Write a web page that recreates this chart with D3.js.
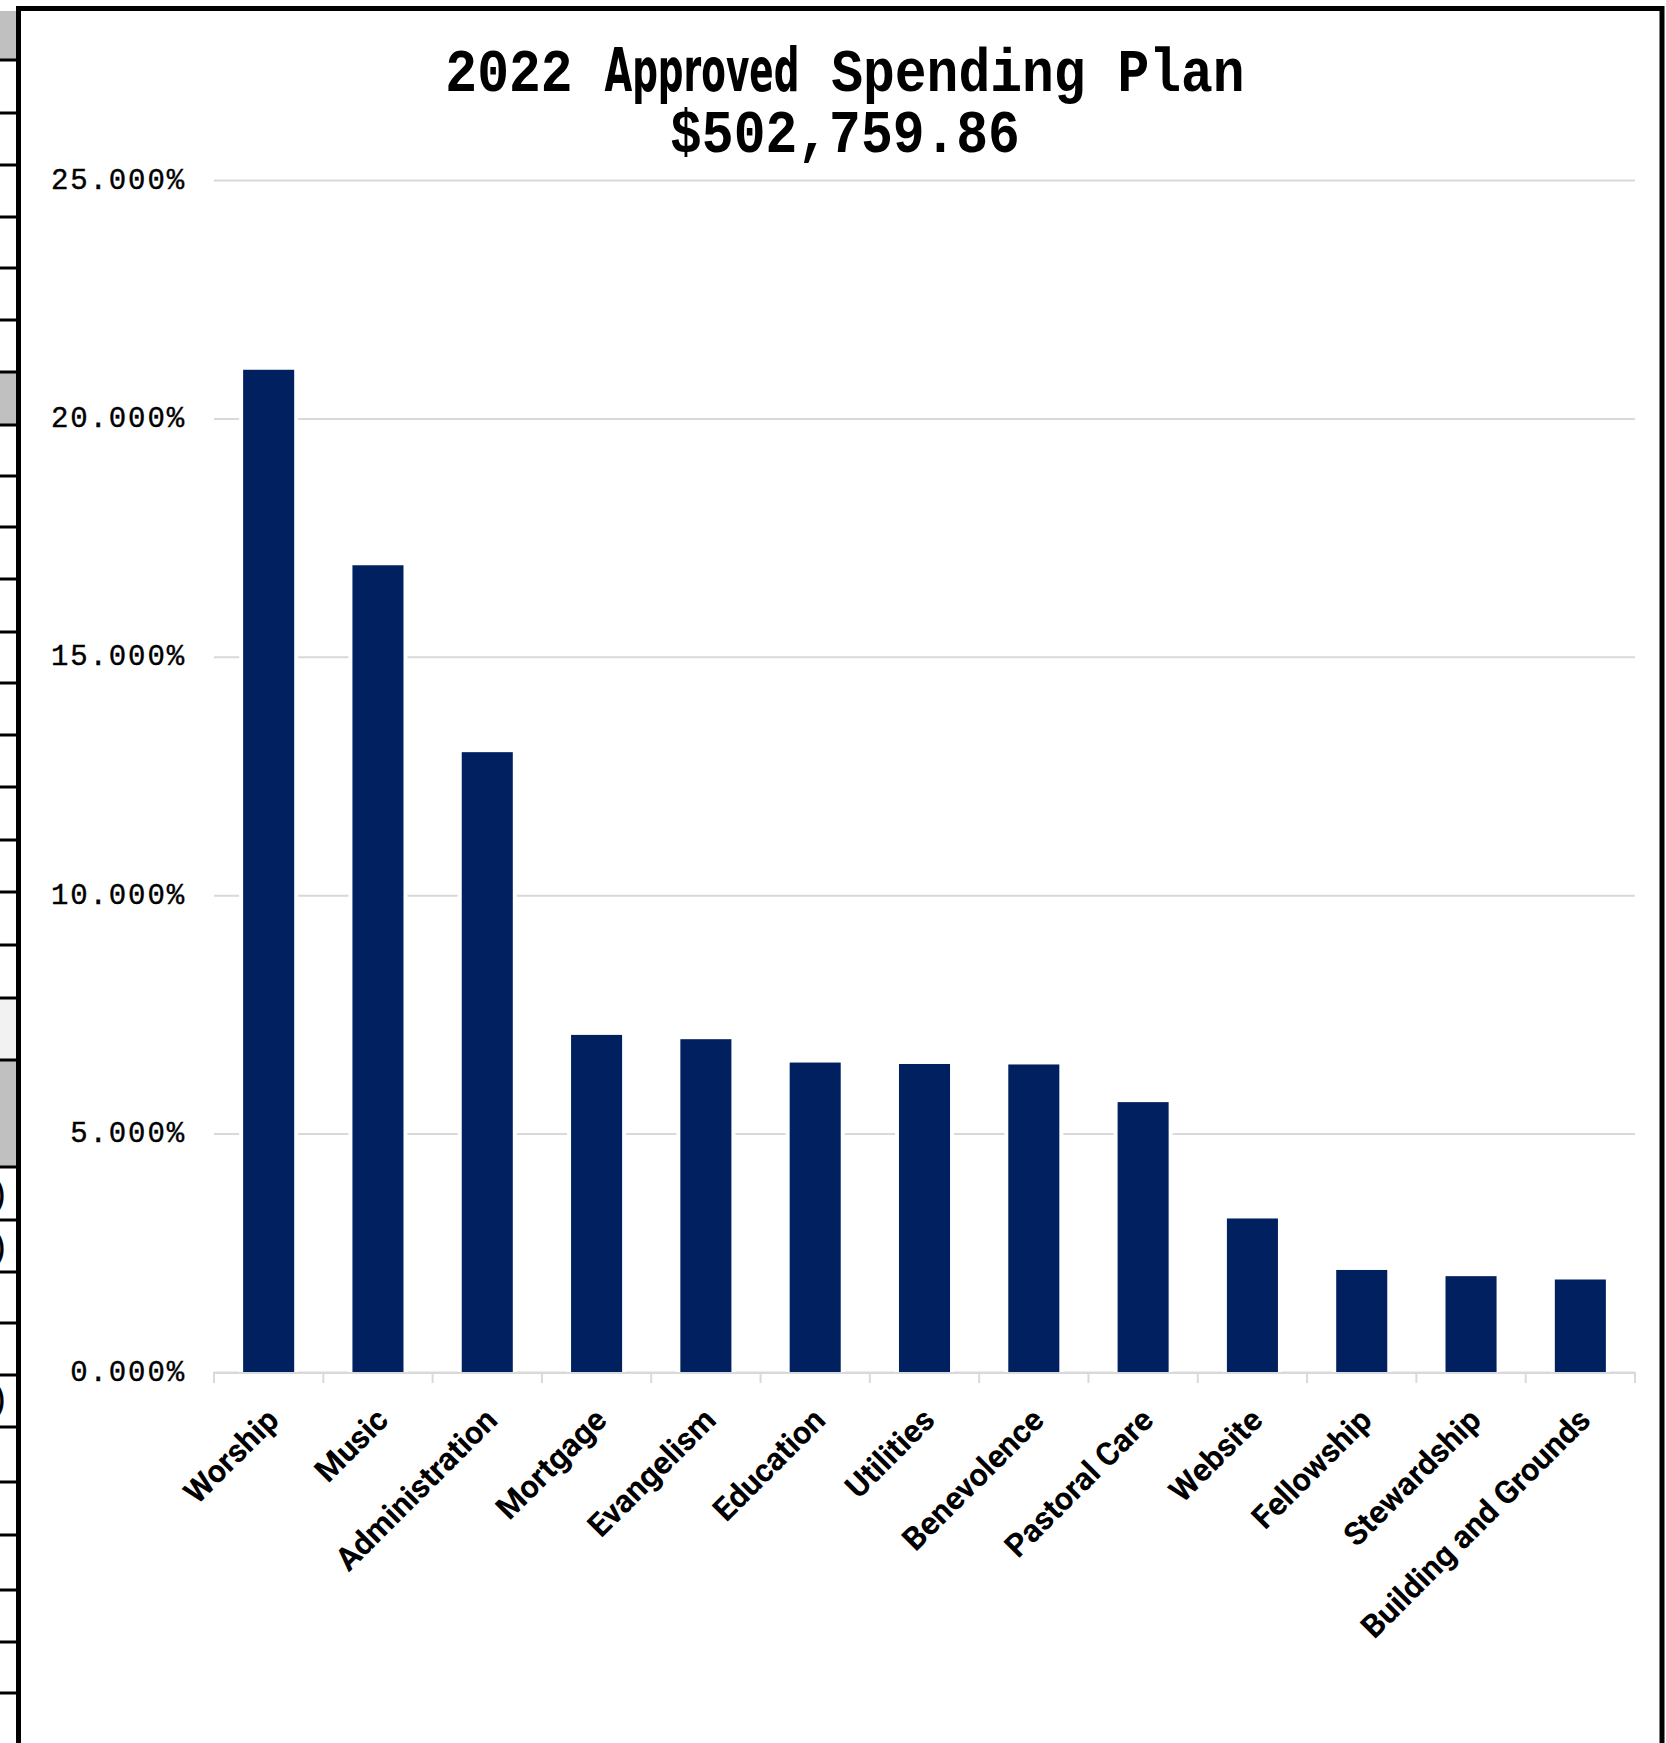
<!DOCTYPE html>
<html>
<head>
<meta charset="utf-8">
<script src="https://cdn.jsdelivr.net/npm/d3@7"></script>
<style>
  html, body { margin: 0; padding: 0; background: #fff; }
  svg { display: block; }
</style>
</head>
<body>
<svg id="chart"></svg>
<script>
// chart values
const categories = ["Worship", "Music", "Administration", "Mortgage", "Evangelism", "Education",
    "Utilities", "Benevolence", "Pastoral Care", "Website", "Fellowship", "Stewardship", "Building and Grounds"];
const shares = [21.02, 16.92, 13.00, 7.07, 6.98, 6.49, 6.46, 6.45, 5.66, 3.22, 2.14, 2.01, 1.94];
const yTicks = [0, 5, 10, 15, 20, 25];
const titleYear = "2022";
const titleWord = "Approved";
const titleRest = "Spending Plan";
const totalLabel = "$502,759.86";

// bits of the spreadsheet grid showing at the left edge
const gridRows = [60, 113, 165, 217, 268, 320, 372, 425, 476, 527, 579, 632, 683, 735, 787, 840,
    892, 945, 998, 1060, 1167, 1220, 1272, 1323, 1375, 1427, 1482, 1535, 1590, 1642, 1693];
const greyCells = [[11, 60, "#c0c0c0"], [372, 425, "#c0c0c0"], [998, 1060, "#f2f2f2"], [1060, 1167, "#c0c0c0"]];
const parenRows = [1206, 1259, 1411];

const width = 1666, height = 1743;
const margin = { top: 180, right: 31, bottom: 371, left: 214 };
const barColor = "#002060", gridColor = "#d9d9d9";

let svg = d3.select("#chart").attr("width", width).attr("height", height);

// left edge decor
let decor = svg.append("g");
decor.selectAll("rect").data(greyCells).join("rect")
    .attr("x", 0).attr("width", 17)
    .attr("y", d => d[0]).attr("height", d => d[1] - d[0])
    .attr("fill", d => d[2]);
decor.selectAll("line").data(gridRows).join("line")
    .attr("x1", 0).attr("x2", 17)
    .attr("y1", d => d).attr("y2", d => d)
    .attr("stroke", "#000").attr("stroke-width", 3);
svg.append("clipPath").attr("id", "leftclip")
    .append("rect").attr("x", 0).attr("y", 0).attr("width", 16).attr("height", height);
decor.append("g").attr("clip-path", "url(#leftclip)")
    .selectAll("text").data(parenRows).join("text")
    .attr("x", 6).attr("y", d => d)
    .attr("text-anchor", "end")
    .attr("font-family", "Liberation Sans, Arial, sans-serif")
    .attr("font-size", 38)
    .text(")");

// chart frame
svg.append("rect")
    .attr("x", 18.5).attr("y", 8.5)
    .attr("width", 1643.5).attr("height", 1800)
    .attr("fill", "#fff").attr("stroke", "#000").attr("stroke-width", 5);

// scales
let x = d3.scaleBand()
    .domain(categories)
    .range([margin.left, width - margin.right])
    .paddingInner(0.533)
    .paddingOuter(0.2665);

let y = d3.scaleLinear()
    .domain([0, 25])
    .range([height - margin.bottom, margin.top]);

// gridlines + y labels
let yAxis = g => g
    .attr("transform", `translate(${margin.left},0)`)
    .call(d3.axisLeft(y).tickValues(yTicks).tickSize(-(width - margin.left - margin.right))
        .tickFormat(d => d3.format(".3f")(d) + "%"))
    .call(g => g.select(".domain").remove())
    .call(g => g.selectAll(".tick line").attr("stroke", gridColor).attr("stroke-width", 2))
    .call(g => g.selectAll(".tick text")
        .attr("x", -28).attr("dy", "0.28em")
        .attr("fill", "#000")
        .attr("font-family", "Liberation Mono, monospace")
        .attr("font-size", 29)
        .attr("stroke", "#000").attr("stroke-width", 0.4)
        .attr("letter-spacing", 1.9));
svg.append("g").call(yAxis);

// bars, with a white gap where the gridlines meet them
let bars = svg.append("g");
bars.selectAll("rect.gap").data(shares).join("rect")
    .attr("class", "gap")
    .attr("x", (d, i) => x(categories[i]) - 4)
    .attr("width", x.bandwidth() + 8)
    .attr("y", d => y(d))
    .attr("height", d => y(0) - y(d))
    .attr("fill", "#fff");
bars.selectAll("rect.bar").data(shares).join("rect")
    .attr("class", "bar")
    .attr("x", (d, i) => x(categories[i]))
    .attr("width", x.bandwidth())
    .attr("y", d => y(d))
    .attr("height", d => y(0) - y(d))
    .attr("fill", barColor);

// x axis: line, boundary ticks, rotated labels
let baseY = y(0);
let step = x.step();
let xAxis = svg.append("g");
xAxis.append("line")
    .attr("x1", margin.left).attr("x2", width - margin.right)
    .attr("y1", baseY + 1).attr("y2", baseY + 1)
    .attr("stroke", gridColor).attr("stroke-width", 2);
xAxis.selectAll("line.tk").data(d3.range(categories.length + 1)).join("line")
    .attr("class", "tk")
    .attr("x1", i => margin.left + i * step).attr("x2", i => margin.left + i * step)
    .attr("y1", baseY).attr("y2", baseY + 11)
    .attr("stroke", gridColor).attr("stroke-width", 2);
xAxis.selectAll("text").data(categories).join("text")
    .attr("transform", d => `translate(${x(d) + x.bandwidth() / 2 + 12},${baseY + 50}) rotate(-45)`)
    .attr("text-anchor", "end")
    .attr("font-family", "Roboto, DejaVu Sans, sans-serif")
    .attr("font-weight", "bold")
    .attr("font-size", 32)
    .attr("fill", "#000")
    .text(d => d);

// title, two lines, a little stretched upward like the original
let title = svg.append("g").attr("transform", "scale(1,1.15)");
let t1 = title.append("text")
    .attr("x", 845).attr("y", 91 / 1.15)
    .attr("text-anchor", "middle")
    .attr("font-family", "Liberation Mono, monospace")
    .attr("font-weight", "bold")
    .attr("font-size", 53)
    .attr("fill", "#000");
t1.append("tspan").text(titleYear + " ");
t1.append("tspan")
    .attr("font-family", "Liberation Sans Narrow, DejaVu Sans Condensed, Roboto, sans-serif")
    .attr("font-weight", "bold")
    .attr("textLength", 195).attr("lengthAdjust", "spacingAndGlyphs")
    .text(titleWord);
t1.append("tspan").text(" " + titleRest);
title.append("text")
    .attr("x", 845).attr("y", 152 / 1.15)
    .attr("text-anchor", "middle")
    .attr("font-family", "Liberation Mono, monospace")
    .attr("font-weight", "bold")
    .attr("font-size", 53)
    .attr("fill", "#000")
    .text(totalLabel);
</script>
</body>
</html>
